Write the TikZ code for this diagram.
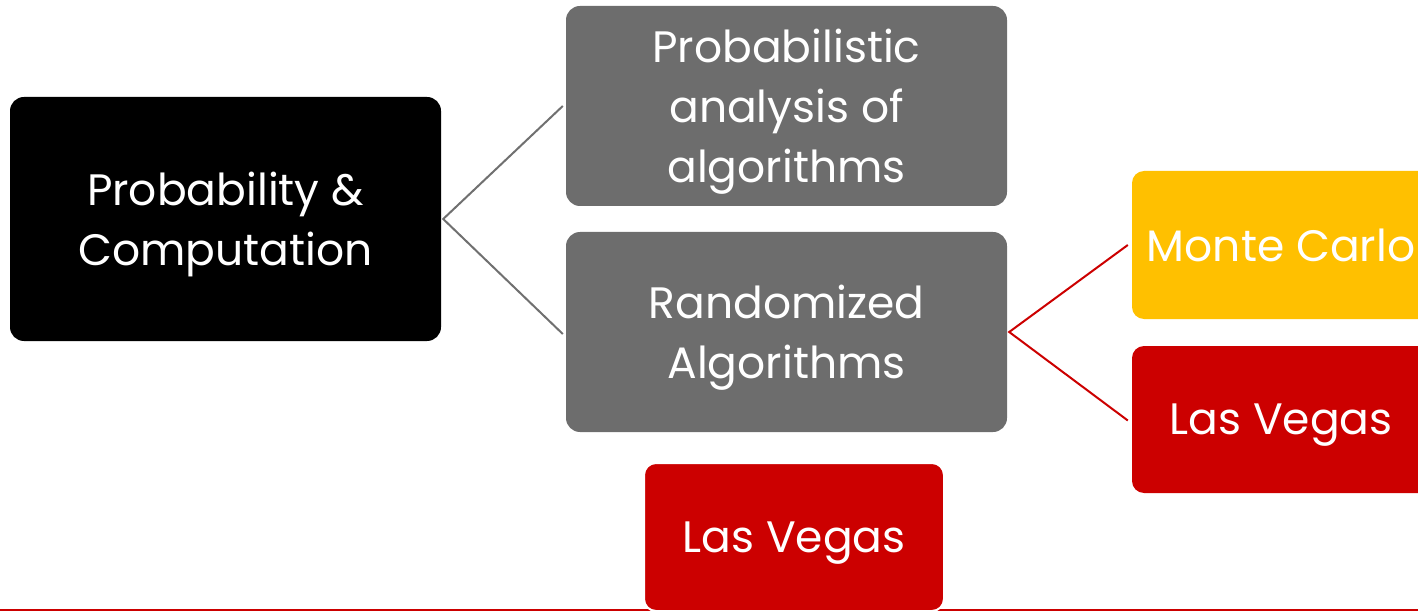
\documentclass[tikz,border=0pt]{standalone}
\usepackage{fontspec}
\setmainfont{Poppins}
\begin{document}
\begin{tikzpicture}[x=1pt,y=-1pt,
  box/.style={rectangle, rounded corners=14pt, inner sep=0pt, text=white,
    align=center, text depth=0pt, font=\fontsize{44}{60}\selectfont},
  link/.style={line width=2pt}]
\useasboundingbox (0,0) rectangle (1418,612);
\clip (0,0) rectangle (1418,612);
\definecolor{gbox}{HTML}{6D6D6D}
\definecolor{gline}{HTML}{707070}
\definecolor{rbox}{HTML}{CC0000}
\definecolor{ybox}{HTML}{FFC000}

% bottom rule
\coordinate (rl) at (0,610);
\coordinate (rr) at (1418,610);
\draw[rbox, line width=2.2pt] (rl) -- (rr);

% boxes
\node[box, fill=black, minimum width=431pt, minimum height=244pt] (root) at (225.5,219) {Probability \&\\Computation};
\node[box, fill=gbox, minimum width=441pt, minimum height=200pt] (pa) at (786.5,106) {Probabilistic\\analysis of\\algorithms};
\node[box, fill=gbox, minimum width=441pt, minimum height=200pt] (ra) at (786.5,332) {Randomized\\Algorithms};
\node[box, fill=ybox, rounded corners=12pt, minimum width=298pt, minimum height=148pt] (mc) at (1281,245) {Monte Carlo};
\node[box, fill=rbox, rounded corners=12pt, minimum width=298pt, minimum height=147pt] (lv) at (1281,419.5) {Las Vegas};
\node[box, fill=rbox, draw=white, line width=2pt, rounded corners=12pt, minimum width=300pt, minimum height=148pt] (lv2) at (794,537) {Las Vegas};

% connectors
\coordinate (j1) at ([xshift=2pt]root.east);
\draw[link, gline] ([xshift=-3pt]pa.west) -- (j1) -- ([xshift=-3pt,yshift=-2pt]ra.west);
\coordinate (j2) at ([xshift=2pt]ra.east);
\draw[link, rbox] ([xshift=-4pt]mc.west) -- (j2) -- ([xshift=-4pt,yshift=-1pt]lv.west);
\end{tikzpicture}
\end{document}
